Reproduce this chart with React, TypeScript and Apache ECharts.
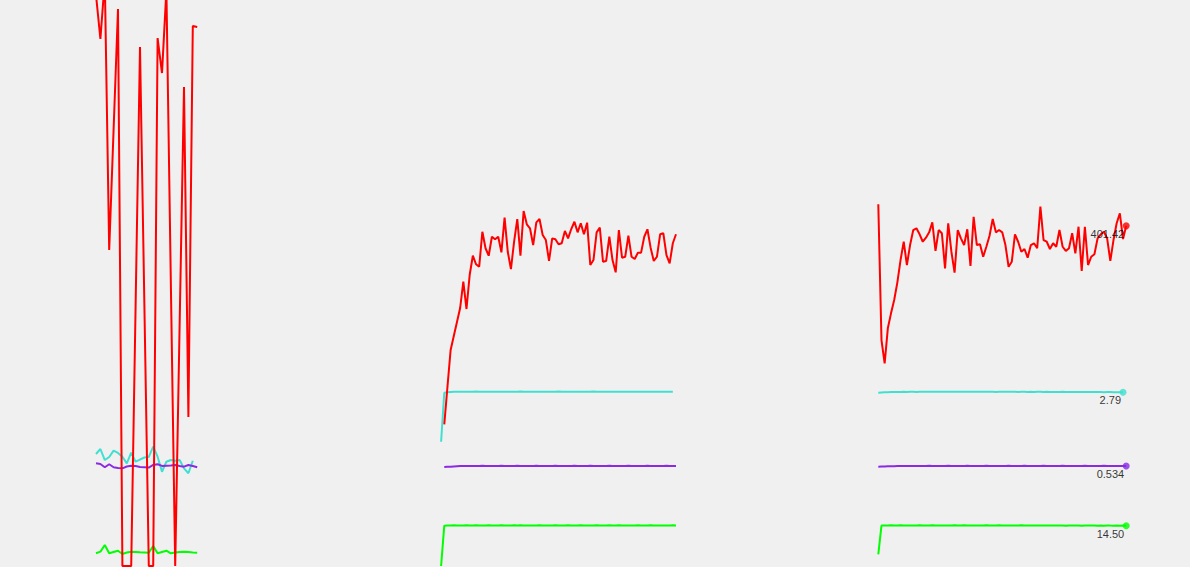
import React, { useEffect, useRef } from "react";
import * as echarts from "echarts";

// ---- series colours / names ----
const SERIES_NAMES = ["Temp", "Pressure", "Ratio", "Flow"];
const SERIES_COLORS = ["#ff0000", "#40e0d0", "#8a2be2", "#00ff00"];
const AXIS_MAX = [668, 9.09, 3.02, 203.6];
const LABEL_DECIMALS = [2, 2, 3, 2];

// ---- left panel (24 samples) ----
const LEFT_RED = [674, 622.0, 691.6, 372.9, 515.2, 657.4, 0, 0, 0, 306.9, 612.5, 306.9, 0, 0, 623.1, 581.8, 679.8, 337.5, 0, 283.2, 565.3, 175.8, 637.3, 636.1];
const LEFT_CYAN = [1.799, 1.879, 1.702, 1.751, 1.852, 1.815, 1.755, 1.649, 1.820, 1.675, 1.710, 1.743, 1.751, 1.916, 1.755, 1.514, 1.675, 1.702, 1.691, 1.702, 1.569, 1.489, 1.691, null];
const LEFT_PURPLE = [0.548, 0.544, 0.527, 0.543, 0.527, 0.523, 0.521, 0.531, 0.535, 0.534, 0.528, 0.527, 0.525, 0.539, 0.543, 0.534, 0.535, 0.536, 0.539, 0.534, 0.530, 0.539, 0.534, 0.527];
const LEFT_GREEN = [4.58, 5.15, 7.57, 4.58, 5.05, 5.51, 4.33, 4.87, 5.15, 5.05, 4.94, 4.87, 4.79, 7.21, 4.58, 5.05, 5.51, 4.58, 4.87, 5.05, 5.15, 5.05, 4.87, 4.79];

// ---- middle panel (75 samples) ----
const MID_RED = [
  null, 167.2, 211.3, 254.9, 271.4, 288.0, 304.5, 335.5, 303.3, 343.4,
  366.2, 356.1, 353.2, 394.5, 375.0, 366.2, 388.6, 385.6, 388.6, 370.2,
  411.1, 370.9, 350.5, 382.7, 409.5, 366.2, 419.0, 403.3, 398.6, 378.8,
  405.6, 409.5, 390.6, 384.7, 360.0, 386.7, 385.6, 379.7, 380.9, 395.4,
  386.7, 397.7, 406.3, 393.8, 404.5, 391.5, 405.2, 355.2, 361.1, 393.8,
  399.3, 359.1, 360.0, 388.6, 361.1, 346.6, 396.5, 363.9, 365.0, 389.8,
  365.0, 362.3, 369.8, 369.8, 388.6, 397.4, 375.7, 360.0, 365.0, 391.5,
  392.7, 367.0, 357.2, 380.9, 391.5,
];
const MID_CYAN = [
  1.996, 2.783, 2.791, 2.796, 2.798, 2.799, 2.797, 2.799, 2.800, 2.798,
  2.799, 2.801, 2.798, 2.799, 2.800, 2.797, 2.799, 2.798, 2.800, 2.799,
  2.798, 2.800, 2.799, 2.797, 2.799, 2.801, 2.798, 2.799, 2.800, 2.798,
  2.799, 2.797, 2.800, 2.799, 2.798, 2.800, 2.799, 2.801, 2.798, 2.799,
  2.800, 2.798, 2.799, 2.797, 2.799, 2.800, 2.798, 2.799, 2.801, 2.799,
  2.798, 2.800, 2.799, 2.798, 2.797, 2.799, 2.800, 2.798, 2.799, 2.800,
  2.799, 2.798, 2.800, 2.799, 2.797, 2.799, 2.798, 2.800, 2.799, 2.798,
  2.799, 2.800, 2.798, 2.799, null,
];
const MID_PURPLE = [
  null, 0.528, 0.529, 0.530, 0.531, 0.532, 0.533, 0.533, 0.534, 0.534,
  0.534, 0.533, 0.534, 0.535, 0.534, 0.534, 0.533, 0.534, 0.534, 0.535,
  0.534, 0.533, 0.534, 0.534, 0.535, 0.534, 0.534, 0.533, 0.534, 0.534,
  0.535, 0.534, 0.534, 0.533, 0.534, 0.534, 0.535, 0.534, 0.533, 0.534,
  0.534, 0.534, 0.535, 0.534, 0.533, 0.534, 0.534, 0.535, 0.534, 0.534,
  0.533, 0.534, 0.534, 0.535, 0.534, 0.534, 0.533, 0.534, 0.534, 0.535,
  0.534, 0.534, 0.533, 0.534, 0.534, 0.535, 0.534, 0.534, 0.533, 0.534,
  0.534, 0.535, 0.534, 0.534, 0.534,
];
const MID_GREEN = [
  0, 14.52, 14.61, 14.58, 14.63, 14.55, 14.60, 14.57, 14.62, 14.56,
  14.59, 14.64, 14.57, 14.60, 14.55, 14.62, 14.58, 14.61, 14.56, 14.63,
  14.57, 14.60, 14.55, 14.62, 14.59, 14.64, 14.56, 14.60, 14.58, 14.61,
  14.55, 14.63, 14.57, 14.60, 14.59, 14.56, 14.62, 14.58, 14.61, 14.57,
  14.64, 14.56, 14.60, 14.58, 14.62, 14.55, 14.61, 14.59, 14.57, 14.63,
  14.58, 14.60, 14.56, 14.62, 14.59, 14.57, 14.64, 14.58, 14.60, 14.55,
  14.61, 14.57, 14.63, 14.58, 14.60, 14.56, 14.62, 14.59, 14.57, 14.61,
  14.58, 14.60, 14.56, 14.62, 14.59,
];

// ---- right panel (79 samples) ----
const RIGHT_RED = [
  426.9, 266.7, 239.2, 280.5, 298.2, 313.9, 334.8, 361.1, 382.7, 355.2,
  378.8, 396.5, 398.6, 391.5, 382.7, 387.5, 393.8, 405.6, 371.8, 396.5,
  392.7, 351.3, 404.5, 370.9, 346.2, 396.5, 386.7, 378.8, 397.4, 354.1,
  412.2, 378.8, 379.7, 365.0, 376.8, 389.8, 409.5, 393.8, 396.5, 393.8,
  378.8, 353.2, 359.1, 391.5, 382.7, 370.9, 374.1, 363.9, 378.8, 380.9,
  375.0, 424.1, 384.7, 382.7, 374.1, 380.9, 376.8, 396.5, 376.8, 371.8,
  375.0, 392.7, 369.0, 400.4, 348.2, 400.4, 355.2, 365.0, 367.9, 386.7,
  391.5, 394.5, 386.7, 360.0, 384.7, 404.5, 416.3, 385.9, 401.42,
];
const RIGHT_CYAN = [
  2.783, 2.786, 2.789, 2.791, 2.793, 2.794, 2.796, 2.795, 2.797, 2.796,
  2.798, 2.797, 2.796, 2.798, 2.797, 2.799, 2.798, 2.797, 2.799, 2.798,
  2.797, 2.799, 2.798, 2.800, 2.798, 2.797, 2.799, 2.798, 2.797, 2.799,
  2.798, 2.800, 2.799, 2.798, 2.797, 2.799, 2.798, 2.796, 2.798, 2.797,
  2.799, 2.798, 2.797, 2.798, 2.796, 2.798, 2.797, 2.795, 2.797, 2.796,
  2.798, 2.797, 2.795, 2.797, 2.796, 2.794, 2.796, 2.795, 2.797, 2.796,
  2.794, 2.796, 2.795, 2.793, 2.795, 2.794, 2.796, 2.794, 2.793, 2.795,
  2.794, 2.792, 2.794, 2.793, 2.791, 2.792, 2.790, 2.790, null,
];
const RIGHT_PURPLE = [
  0.530, 0.531, 0.531, 0.532, 0.532, 0.532, 0.533, 0.533, 0.533, 0.534,
  0.533, 0.534, 0.534, 0.533, 0.534, 0.534, 0.535, 0.534, 0.534, 0.533,
  0.534, 0.534, 0.535, 0.534, 0.533, 0.534, 0.534, 0.534, 0.535, 0.534,
  0.534, 0.533, 0.534, 0.534, 0.535, 0.534, 0.534, 0.533, 0.534, 0.534,
  0.534, 0.535, 0.534, 0.533, 0.534, 0.534, 0.535, 0.534, 0.534, 0.533,
  0.534, 0.534, 0.535, 0.534, 0.534, 0.533, 0.534, 0.534, 0.535, 0.534,
  0.534, 0.533, 0.534, 0.534, 0.534, 0.535, 0.534, 0.534, 0.533, 0.534,
  0.534, 0.535, 0.534, 0.534, 0.533, 0.534, 0.534, 0.534, 0.534,
];
const RIGHT_GREEN = [
  4.21, 14.55, 14.60, 14.57, 14.62, 14.56, 14.59, 14.63, 14.57, 14.60,
  14.55, 14.61, 14.58, 14.62, 14.56, 14.60, 14.57, 14.63, 14.59, 14.56,
  14.61, 14.58, 14.55, 14.60, 14.62, 14.57, 14.59, 14.64, 14.56, 14.60,
  14.58, 14.61, 14.55, 14.59, 14.62, 14.57, 14.60, 14.56, 14.63, 14.58,
  14.60, 14.57, 14.61, 14.55, 14.59, 14.62, 14.56, 14.60, 14.58, 14.54,
  14.59, 14.56, 14.61, 14.57, 14.53, 14.58, 14.55, 14.60, 14.56, 14.52,
  14.57, 14.54, 14.59, 14.55, 14.51, 14.56, 14.53, 14.58, 14.54, 14.50,
  14.55, 14.52, 14.57, 14.53, 14.51, 14.54, 14.52, 14.53, 14.50,
];

const PANELS = [
  { series: [LEFT_RED, LEFT_CYAN, LEFT_PURPLE, LEFT_GREEN], endLabels: false },
  { series: [MID_RED, MID_CYAN, MID_PURPLE, MID_GREEN], endLabels: false },
  { series: [RIGHT_RED, RIGHT_CYAN, RIGHT_PURPLE, RIGHT_GREEN], endLabels: true },
];
const GRID_BOXES = [
  { left: 96, top: 0, width: 101.2, height: 566 },
  { left: 441.1, top: 0, width: 234.9, height: 566 },
  { left: 878.3, top: 0, width: 247.9, height: 566 },
];
const DRAW_ORDER = [1, 2, 3, 0];

function lastPoint(arr: (number | null)[]): [number, number] | null {
  for (let i = arr.length - 1; i >= 0; i--) {
    const v = arr[i];
    if (v !== null && v !== undefined) return [i, v];
  }
  return null;
}

export default function App() {
  const ref = useRef<HTMLDivElement>(null);
  useEffect(() => {
    document.body.style.margin = "0";
    document.body.style.background = "#f0f0f0";
    if (!ref.current) return;
    const chart = echarts.init(ref.current, undefined, { renderer: "svg" });
    const xAxis: any[] = [];
    const yAxis: any[] = [];
    const series: any[] = [];
    PANELS.forEach((p, g) => {
      const n = p.series[0].length;
      xAxis.push({
        type: "category",
        gridIndex: g,
        boundaryGap: false,
        data: Array.from({ length: n }, (_, i) => String(i)),
        show: false,
      });
      p.series.forEach((_, s) => {
        yAxis.push({ type: "value", gridIndex: g, min: 0, max: AXIS_MAX[s], show: false });
      });
      DRAW_ORDER.forEach((s) => {
        series.push({
          type: "line",
          name: SERIES_NAMES[s],
          xAxisIndex: g,
          yAxisIndex: g * 4 + s,
          data: p.series[s],
          showSymbol: false,
          silent: true,
          connectNulls: false,
          lineStyle: { width: 2, color: SERIES_COLORS[s] },
          itemStyle: { color: SERIES_COLORS[s] },
        });
      });
      if (p.endLabels) {
        DRAW_ORDER.forEach((s) => {
          const lp = lastPoint(p.series[s]);
          if (!lp) return;
          series.push({
            type: "scatter",
            xAxisIndex: g,
            yAxisIndex: g * 4 + s,
            data: [lp],
            symbol: "circle",
            symbolSize: 7,
            silent: true,
            itemStyle: { color: SERIES_COLORS[s] },
            label: {
              show: true,
              position: "inside",
              align: "right",
              verticalAlign: "middle",
              offset: [-2, 8],
              color: "#000",
              fontSize: 11,
              fontFamily: "'Liberation Sans', Arial, sans-serif",
              formatter: () => lp[1].toFixed(LABEL_DECIMALS[s]),
            },
            z: 5,
          });
        });
      }
    });
    chart.setOption({
      animation: false,
      backgroundColor: "#f0f0f0",
      grid: GRID_BOXES,
      xAxis,
      yAxis,
      series,
    });
    return () => chart.dispose();
  }, []);
  return (
    <div
      ref={ref}
      style={{ position: "absolute", left: 0, top: 0, width: 1190, height: 567 }}
    />
  );
}
